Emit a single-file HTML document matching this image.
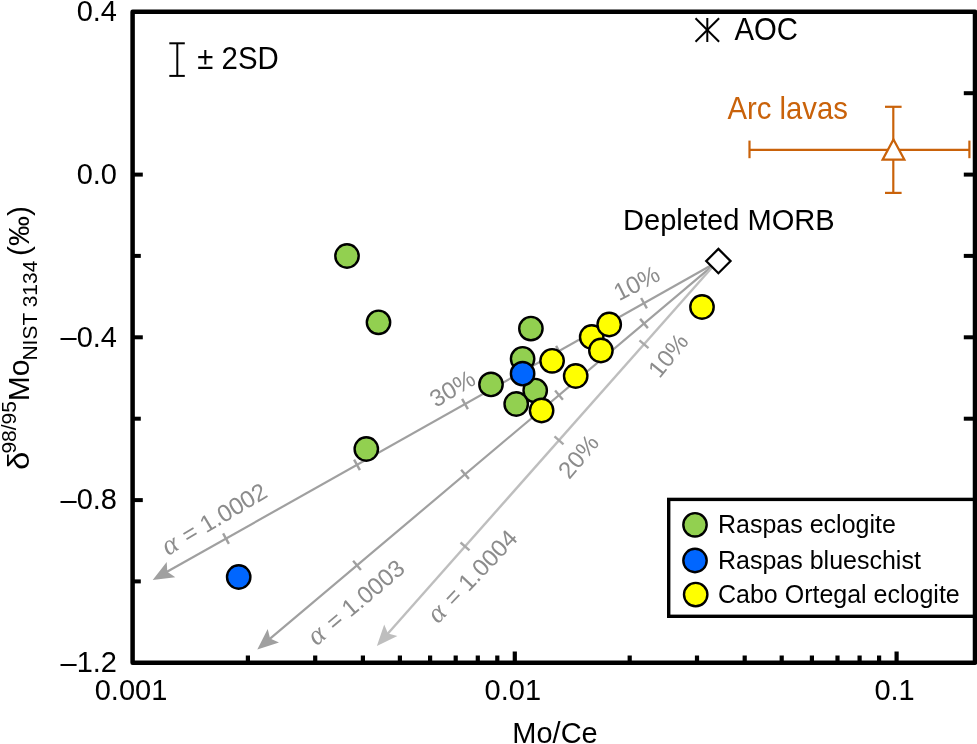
<!DOCTYPE html><html><head><meta charset="utf-8"><style>html,body{margin:0;padding:0;background:#fff;width:977px;height:744px;overflow:hidden}svg{display:block;will-change:transform}text{font-family:"Liberation Sans", sans-serif}</style></head><body>
<svg width="977" height="744" viewBox="0 0 977 744">
<line x1="718.4" y1="261.3" x2="166.6" y2="572.0" stroke="#a0a0a0" stroke-width="2.2"/>
<polygon points="152.7,579.9 166.7,561.9 167.3,571.7 175.3,577.3" fill="#a0a0a0"/>
<line x1="641.1" y1="298.0" x2="646.9" y2="308.4" stroke="#a0a0a0" stroke-width="2.4"/>
<line x1="556.1" y1="345.8" x2="561.9" y2="356.3" stroke="#a0a0a0" stroke-width="2.4"/>
<line x1="462.1" y1="398.8" x2="467.9" y2="409.2" stroke="#a0a0a0" stroke-width="2.4"/>
<line x1="354.1" y1="459.6" x2="359.9" y2="470.1" stroke="#a0a0a0" stroke-width="2.4"/>
<line x1="223.1" y1="533.4" x2="228.9" y2="543.8" stroke="#a0a0a0" stroke-width="2.4"/>
<line x1="718.4" y1="260.8" x2="269.5" y2="639.1" stroke="#a0a0a0" stroke-width="2.2"/>
<polygon points="257.3,649.4 267.7,629.1 270.1,638.6 279.0,642.6" fill="#a0a0a0"/>
<line x1="640.1" y1="318.9" x2="647.9" y2="328.1" stroke="#a0a0a0" stroke-width="2.4"/>
<line x1="555.1" y1="390.5" x2="562.9" y2="399.7" stroke="#a0a0a0" stroke-width="2.4"/>
<line x1="461.1" y1="469.8" x2="468.9" y2="478.9" stroke="#a0a0a0" stroke-width="2.4"/>
<line x1="353.1" y1="560.8" x2="360.9" y2="570.0" stroke="#a0a0a0" stroke-width="2.4"/>
<line x1="718.4" y1="260.2" x2="387.5" y2="634.0" stroke="#bebebe" stroke-width="2.4"/>
<polygon points="376.9,646.0 384.2,624.4 388.0,633.4 397.4,636.1" fill="#bebebe"/>
<line x1="639.5" y1="340.3" x2="648.5" y2="348.2" stroke="#a9a9a9" stroke-width="2.4"/>
<line x1="554.5" y1="436.3" x2="563.5" y2="444.3" stroke="#a9a9a9" stroke-width="2.4"/>
<line x1="460.5" y1="542.5" x2="469.5" y2="550.4" stroke="#a9a9a9" stroke-width="2.4"/>
<text transform="translate(168,556) rotate(-30.605370950708004)" font-size="24" fill="#8c8c8c"><tspan font-family="Liberation Serif" font-style="italic" font-size="28">α</tspan><tspan dx="2"> = 1.0002</tspan></text>
<text transform="translate(316.5,646.5) rotate(-40.10129018897596)" font-size="24" fill="#8c8c8c"><tspan font-family="Liberation Serif" font-style="italic" font-size="28">α</tspan><tspan dx="2"> = 1.0003</tspan></text>
<text transform="translate(438,624.5) rotate(-46.3895917802648)" font-size="24" fill="#8c8c8c"><tspan font-family="Liberation Serif" font-style="italic" font-size="28">α</tspan><tspan dx="2"> = 1.0004</tspan></text>
<text transform="translate(456.6,395.6) rotate(-31)" font-size="24" fill="#8c8c8c" text-anchor="middle">30%</text>
<text transform="translate(640.4,290.4) rotate(-27)" font-size="24" fill="#8c8c8c" text-anchor="middle">10%</text>
<text transform="translate(674.6,360.5) rotate(-51)" font-size="24" fill="#8c8c8c" text-anchor="middle">10%</text>
<text transform="translate(584.8,461.9) rotate(-50)" font-size="24" fill="#8c8c8c" text-anchor="middle">20%</text>
<circle cx="347" cy="256" r="11.7" fill="#92d050" stroke="#000" stroke-width="2.4"/>
<circle cx="378.5" cy="322.3" r="11.7" fill="#92d050" stroke="#000" stroke-width="2.4"/>
<circle cx="366.3" cy="449" r="11.7" fill="#92d050" stroke="#000" stroke-width="2.4"/>
<circle cx="530.9" cy="328.6" r="11.7" fill="#92d050" stroke="#000" stroke-width="2.4"/>
<circle cx="522.6" cy="358.8" r="11.7" fill="#92d050" stroke="#000" stroke-width="2.4"/>
<circle cx="491" cy="384.4" r="11.7" fill="#92d050" stroke="#000" stroke-width="2.4"/>
<circle cx="535.2" cy="390.6" r="11.7" fill="#92d050" stroke="#000" stroke-width="2.4"/>
<circle cx="516.2" cy="404" r="11.7" fill="#92d050" stroke="#000" stroke-width="2.4"/>
<circle cx="522.6" cy="373.7" r="11.7" fill="#0066ff" stroke="#000" stroke-width="2.4"/>
<circle cx="238.7" cy="577" r="11.7" fill="#0066ff" stroke="#000" stroke-width="2.4"/>
<circle cx="552.1" cy="360.8" r="11.7" fill="#ffff00" stroke="#000" stroke-width="2.4"/>
<circle cx="575.7" cy="376" r="11.7" fill="#ffff00" stroke="#000" stroke-width="2.4"/>
<circle cx="541.6" cy="410.5" r="11.7" fill="#ffff00" stroke="#000" stroke-width="2.4"/>
<circle cx="591.7" cy="337" r="11.7" fill="#ffff00" stroke="#000" stroke-width="2.4"/>
<circle cx="609.2" cy="324.5" r="11.7" fill="#ffff00" stroke="#000" stroke-width="2.4"/>
<circle cx="600.9" cy="350.5" r="11.7" fill="#ffff00" stroke="#000" stroke-width="2.4"/>
<circle cx="702" cy="307" r="11.7" fill="#ffff00" stroke="#000" stroke-width="2.4"/>
<polygon points="718.4,248.90000000000003 730.6,261.1 718.4,273.3 706.1999999999999,261.1" fill="#fff" stroke="#000" stroke-width="2.2"/>
<g stroke="#000" stroke-width="2"><line x1="707.3" y1="18" x2="707.3" y2="42"/><line x1="695.5" y1="18.2" x2="719.0999999999999" y2="41.8"/><line x1="719.0999999999999" y1="18.2" x2="695.5" y2="41.8"/></g>
<text transform="translate(734.5,40.2) scale(1,1.04)" font-size="29.3" text-anchor="start" fill="#000">AOC</text>
<g stroke="#c9620a" stroke-width="2.2" fill="none">
<line x1="749.5" y1="149.9" x2="969.4" y2="149.9"/><line x1="749.5" y1="140.6" x2="749.5" y2="158.2"/><line x1="969.4" y1="140.6" x2="969.4" y2="158.2"/>
<line x1="893.3" y1="106.8" x2="893.3" y2="192.9"/><line x1="885" y1="106.8" x2="901.6" y2="106.8"/><line x1="885" y1="192.9" x2="901.6" y2="192.9"/>
</g>
<polygon points="893.5,139.4 904.4,159.7 882.6,159.7" fill="#fff" stroke="#c9620a" stroke-width="2.2"/>
<text transform="translate(727.5,119.2) scale(1,1.04)" font-size="29.3" text-anchor="start" fill="#c9620a">Arc lavas</text>
<text transform="translate(623,229.9) scale(1,1.04)" font-size="29.1" text-anchor="start" fill="#000">Depleted MORB</text>
<g stroke="#000" stroke-width="2"><line x1="177.3" y1="43.3" x2="177.3" y2="75.9"/><line x1="169.3" y1="43.3" x2="184.8" y2="43.3"/><line x1="169.3" y1="75.9" x2="184.8" y2="75.9"/></g>
<text transform="translate(197.3,69.3) scale(1,1.04)" font-size="29.4" text-anchor="start" fill="#000">± 2SD</text>
<line x1="247.9" y1="662.8" x2="247.9" y2="655.5" stroke="#000" stroke-width="4.2"/>
<line x1="315.2" y1="662.8" x2="315.2" y2="655.5" stroke="#000" stroke-width="4.2"/>
<line x1="362.9" y1="662.8" x2="362.9" y2="655.5" stroke="#000" stroke-width="4.2"/>
<line x1="399.9" y1="662.8" x2="399.9" y2="655.5" stroke="#000" stroke-width="4.2"/>
<line x1="430.1" y1="662.8" x2="430.1" y2="655.5" stroke="#000" stroke-width="4.2"/>
<line x1="455.7" y1="662.8" x2="455.7" y2="655.5" stroke="#000" stroke-width="4.2"/>
<line x1="477.8" y1="662.8" x2="477.8" y2="655.5" stroke="#000" stroke-width="4.2"/>
<line x1="497.3" y1="662.8" x2="497.3" y2="655.5" stroke="#000" stroke-width="4.2"/>
<line x1="514.8" y1="662.8" x2="514.8" y2="651.5" stroke="#000" stroke-width="4.2"/>
<line x1="629.7" y1="662.8" x2="629.7" y2="655.5" stroke="#000" stroke-width="4.2"/>
<line x1="697.0" y1="662.8" x2="697.0" y2="655.5" stroke="#000" stroke-width="4.2"/>
<line x1="744.7" y1="662.8" x2="744.7" y2="655.5" stroke="#000" stroke-width="4.2"/>
<line x1="781.7" y1="662.8" x2="781.7" y2="655.5" stroke="#000" stroke-width="4.2"/>
<line x1="811.9" y1="662.8" x2="811.9" y2="655.5" stroke="#000" stroke-width="4.2"/>
<line x1="837.5" y1="662.8" x2="837.5" y2="655.5" stroke="#000" stroke-width="4.2"/>
<line x1="859.6" y1="662.8" x2="859.6" y2="655.5" stroke="#000" stroke-width="4.2"/>
<line x1="879.1" y1="662.8" x2="879.1" y2="655.5" stroke="#000" stroke-width="4.2"/>
<line x1="896.6" y1="662.8" x2="896.6" y2="651.5" stroke="#000" stroke-width="4.2"/>
<line x1="132.6" y1="581.4" x2="140.8" y2="581.4" stroke="#000" stroke-width="4"/>
<line x1="132.6" y1="500.1" x2="142.8" y2="500.1" stroke="#000" stroke-width="4"/>
<line x1="132.6" y1="418.7" x2="140.8" y2="418.7" stroke="#000" stroke-width="4"/>
<line x1="132.6" y1="337.3" x2="142.8" y2="337.3" stroke="#000" stroke-width="4"/>
<line x1="132.6" y1="255.9" x2="140.8" y2="255.9" stroke="#000" stroke-width="4"/>
<line x1="132.6" y1="174.6" x2="142.8" y2="174.6" stroke="#000" stroke-width="4"/>
<line x1="975" y1="581.4" x2="963.8" y2="581.4" stroke="#000" stroke-width="4"/>
<line x1="975" y1="500.1" x2="963.8" y2="500.1" stroke="#000" stroke-width="4"/>
<line x1="975" y1="418.7" x2="963.8" y2="418.7" stroke="#000" stroke-width="4"/>
<line x1="975" y1="337.3" x2="963.8" y2="337.3" stroke="#000" stroke-width="4"/>
<line x1="975" y1="255.9" x2="963.8" y2="255.9" stroke="#000" stroke-width="4"/>
<line x1="975" y1="174.6" x2="963.8" y2="174.6" stroke="#000" stroke-width="4"/>
<line x1="975" y1="93.2" x2="963.8" y2="93.2" stroke="#000" stroke-width="4"/>
<rect x="668.7" y="499.4" width="310" height="116.9" fill="#fff" stroke="#000" stroke-width="3.4"/>
<circle cx="695" cy="524.8" r="11.7" fill="#92d050" stroke="#000" stroke-width="2.4"/>
<text transform="translate(718,532.8) scale(1,1.04)" font-size="25.0" text-anchor="start" fill="#000">Raspas eclogite</text>
<circle cx="695" cy="560.5" r="11.7" fill="#0066ff" stroke="#000" stroke-width="2.4"/>
<text transform="translate(718,568.5) scale(1,1.04)" font-size="25.0" text-anchor="start" fill="#000">Raspas blueschist</text>
<circle cx="695.7" cy="594.6" r="11.7" fill="#ffff00" stroke="#000" stroke-width="2.4"/>
<text transform="translate(718,602.6) scale(1,1.04)" font-size="25.0" text-anchor="start" fill="#000">Cabo Ortegal eclogite</text>
<rect x="132.6" y="11.8" width="842.4" height="651.0" fill="none" stroke="#000" stroke-width="4.5" stroke-linejoin="round"/>
<text transform="translate(117,21.1) scale(1,1.04)" font-size="29" text-anchor="end" fill="#000">0.4</text>
<text transform="translate(117,183.9) scale(1,1.04)" font-size="29" text-anchor="end" fill="#000">0.0</text>
<text transform="translate(117,346.6) scale(1,1.04)" font-size="29" text-anchor="end" fill="#000"><tspan dy="0.4">–</tspan><tspan dy="-0.4">0.4</tspan></text>
<text transform="translate(117,509.4) scale(1,1.04)" font-size="29" text-anchor="end" fill="#000"><tspan dy="0.4">–</tspan><tspan dy="-0.4">0.8</tspan></text>
<text transform="translate(117,672.1) scale(1,1.04)" font-size="29" text-anchor="end" fill="#000"><tspan dy="0.4">–</tspan><tspan dy="-0.4">1.2</tspan></text>
<text transform="translate(131.0,699.5) scale(1,1.04)" font-size="29" text-anchor="middle" fill="#000">0.001</text>
<text transform="translate(512.8,699.5) scale(1,1.04)" font-size="29" text-anchor="middle" fill="#000">0.01</text>
<text transform="translate(894.6,699.5) scale(1,1.04)" font-size="29" text-anchor="middle" fill="#000">0.1</text>
<text transform="translate(555,743) scale(1,1.04)" font-size="29" text-anchor="middle" fill="#000">Mo/Ce</text>
<text transform="translate(29.3,470.0) rotate(-90) scale(1.12,1)" font-size="29.5" font-family="Liberation Serif">δ</text>
<text transform="translate(16.0,453.6) rotate(-90)" font-size="21" font-family="Liberation Sans">98/95</text>
<text transform="translate(28.5,401.2) rotate(-90)" font-size="30" font-family="Liberation Sans">Mo</text>
<text transform="translate(36.6,360.6) rotate(-90)" font-size="21" font-family="Liberation Sans">NIST 3134</text>
<text transform="translate(28.5,256.0) rotate(-90)" font-size="30" font-family="Liberation Sans">(‰)</text>
</svg></body></html>
